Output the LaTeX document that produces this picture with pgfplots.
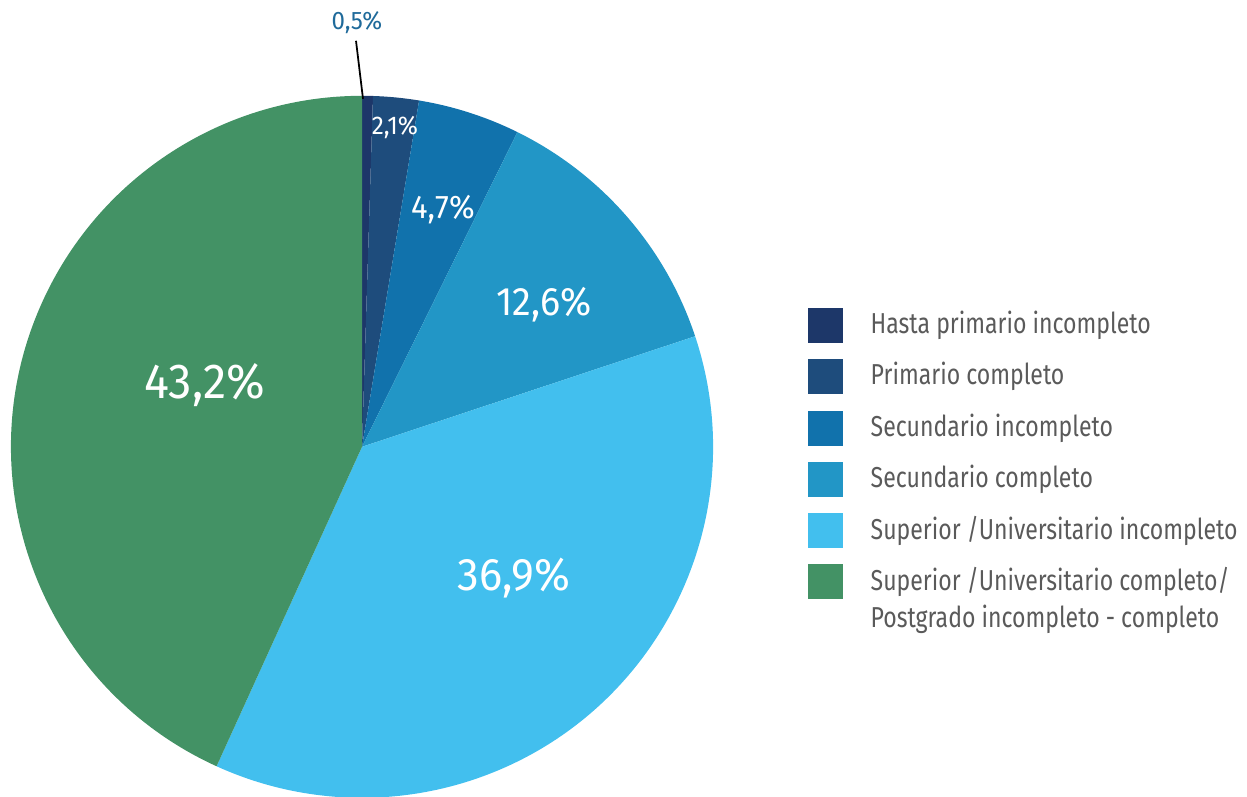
\documentclass[border=0pt]{standalone}
\usepackage{pgfplots}
\pgfplotsset{compat=1.18}
\usepackage{fontspec}
\setmainfont{Fira Sans}[FakeStretch=0.8]
\newfontfamily\lblfont{Fira Sans}[FakeStretch=0.95]
\definecolor{c1}{HTML}{1D3769}
\definecolor{c2}{HTML}{1E4C7C}
\definecolor{c3}{HTML}{1172AC}
\definecolor{c4}{HTML}{2296C6}
\definecolor{c5}{HTML}{42BFEE}
\definecolor{c6}{HTML}{439265}
\definecolor{lgtext}{HTML}{5A5A5A}
\definecolor{lbl}{HTML}{1F6A9A}
% data: percentage per category (clockwise from top)
\newcommand\piecmds{}
\xdef\curang{90}
\foreach \v/\c in {0.5/c1,2.1/c2,4.7/c3,12.6/c4,36.9/c5,43.2/c6}{%
  \pgfmathsetmacro\endang{\curang-3.6*\v}%
  \pgfmathsetmacro\px{362+351*cos(\curang)}%
  \pgfmathsetmacro\py{350+351*sin(\curang)}%
  \xdef\piecmds{\unexpanded\expandafter{\piecmds}\noexpand\fill[\c, overlay] (axis cs:362,350) -- (axis cs:\px,\py) arc[start angle=\curang, end angle=\endang, radius=3.51cm] -- cycle;}%
  \xdef\curang{\endang}%
}
\begin{document}
\begin{tikzpicture}
\begin{axis}[scale only axis, width=12.47cm, height=7.94cm,
  xmin=0, xmax=1247, ymin=0, ymax=794, hide axis, clip=false]
\path (rel axis cs:0,0) rectangle (rel axis cs:1,1);
\piecmds
% labels
\draw[black, line width=0.5pt] (axis cs:363,698) -- (axis cs:356,756);
\node[text=lbl, font=\lblfont\fontsize{7.2}{9}\selectfont] at (axis cs:357,774) {0,5\%};
\node[text=white, font=\lblfont\fontsize{7.3}{9}\selectfont] at (axis cs:395,669) {2,1\%};
\node[text=white, font=\lblfont\fontsize{9.3}{11}\selectfont] at (axis cs:443,587) {4,7\%};
\node[text=white, font=\lblfont\fontsize{11.3}{13}\selectfont] at (axis cs:544,492) {12,6\%};
\node[text=white, font=\lblfont\fontsize{13}{16}\selectfont] at (axis cs:514,219) {36,9\%};
\node[text=white, font=\lblfont\fontsize{14}{16}\selectfont] at (axis cs:205,412) {43,2\%};
% legend
\foreach \yy/\c in {471/c1,420/c2,368/c3,317/c4,266/c5,215/c6}{%
  \edef\tmp{\noexpand\fill[\c] (axis cs:808,\yy-17.5) rectangle (axis cs:843,\yy+17.5);}\tmp
}
\node[anchor=west, text=lgtext, font=\fontsize{8.2}{10}\selectfont, inner sep=0pt] at (axis cs:870,471) {Hasta primario incompleto};
\node[anchor=west, text=lgtext, font=\fontsize{8.2}{10}\selectfont, inner sep=0pt] at (axis cs:870,420) {Primario completo};
\node[anchor=west, text=lgtext, font=\fontsize{8.2}{10}\selectfont, inner sep=0pt] at (axis cs:870,368) {Secundario incompleto};
\node[anchor=west, text=lgtext, font=\fontsize{8.2}{10}\selectfont, inner sep=0pt] at (axis cs:870,317) {Secundario completo};
\node[anchor=west, text=lgtext, font=\fontsize{8.2}{10}\selectfont, inner sep=0pt] at (axis cs:870,266) {Superior /Universitario incompleto};
\node[anchor=west, text=lgtext, font=\fontsize{8.2}{10}\selectfont, inner sep=0pt] at (axis cs:870,215) {Superior /Universitario completo/};
\node[anchor=west, text=lgtext, font=\fontsize{8.2}{10}\selectfont, inner sep=0pt] at (axis cs:870,177) {Postgrado incompleto - completo};
\end{axis}
\end{tikzpicture}
\end{document}
